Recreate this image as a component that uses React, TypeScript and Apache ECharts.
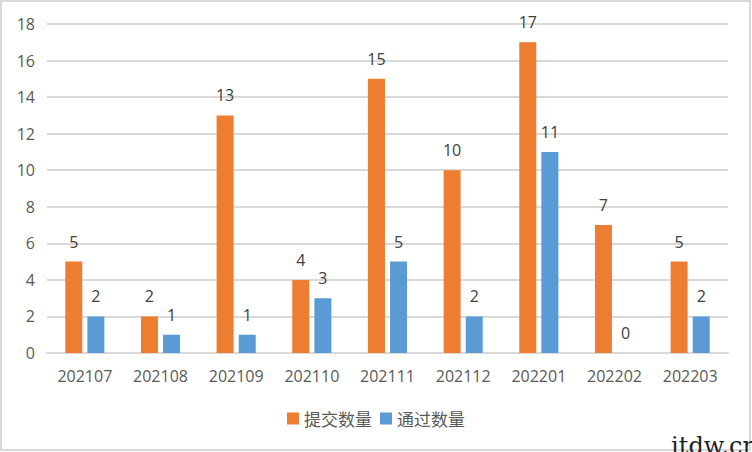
import React, { useEffect, useRef } from "react";
import * as echarts from "echarts";

const categories = ["202107", "202108", "202109", "202110", "202111", "202112", "202201", "202202", "202203"];
const submitted = [5, 2, 13, 4, 15, 10, 17, 7, 5];
const passed = [2, 1, 1, 3, 5, 2, 11, 0, 2];
const seriesNames = ["提交数量", "通过数量"];

export default function App() {
  const ref = useRef<HTMLDivElement>(null);
  useEffect(() => {
    document.body.style.margin = "0";
    const chart = echarts.init(ref.current!, null, { renderer: "svg" });
    const font = "'Open Sans', 'Noto Sans CJK SC', sans-serif";
    const cjk = "'Noto Sans CJK SC', sans-serif";
    chart.setOption({
      animation: false,
      backgroundColor: "#ffffff",
      grid: { left: 47, right: 24, top: 24, bottom: 99, containLabel: false },
      legend: {
        data: seriesNames,
        bottom: 20,
        left: "center",
        itemWidth: 12,
        itemHeight: 12,
        itemGap: 8,
        icon: "rect",
        textStyle: { color: "#595959", fontSize: 17, fontFamily: cjk },
      },
      xAxis: {
        type: "category",
        data: categories,
        axisLine: { lineStyle: { color: "#d9d9d9", width: 2 } },
        axisTick: { show: false },
        axisLabel: { color: "#595959", fontSize: 16, fontFamily: font, margin: 15 },
      },
      yAxis: {
        type: "value",
        min: 0,
        max: 18,
        interval: 2,
        axisLine: { show: false },
        axisTick: { show: false },
        splitLine: { lineStyle: { color: "#d9d9d9", width: 2 } },
        axisLabel: { color: "#595959", fontSize: 16, fontFamily: font, margin: 12 },
      },
      series: [
        {
          name: seriesNames[0],
          type: "bar",
          data: submitted,
          barWidth: 17,
          barGap: "30%",
          itemStyle: { color: "#ED7D31" },
          label: { show: true, position: "top", distance: 12, color: "#404040", fontSize: 16, fontFamily: font },
        },
        {
          name: seriesNames[1],
          type: "bar",
          data: passed,
          barWidth: 17,
          itemStyle: { color: "#5B9BD5" },
          label: { show: true, position: "top", distance: 12, color: "#404040", fontSize: 16, fontFamily: font },
        },
      ],
      graphic: [
        {
          type: "rect",
          shape: { x: 1, y: 1, width: 749, height: 449 },
          style: { fill: "none", stroke: "#d9d9d9", lineWidth: 2 },
          silent: true,
        },
        {
          type: "text",
          right: -6,
          bottom: -6,
          style: { text: "itdw.cn", fill: "#222", fontSize: 24, fontFamily: "'DejaVu Serif', serif" },
        },
      ],
    });
    return () => chart.dispose();
  }, []);
  return <div ref={ref} style={{ width: 752, height: 452 }} />;
}
